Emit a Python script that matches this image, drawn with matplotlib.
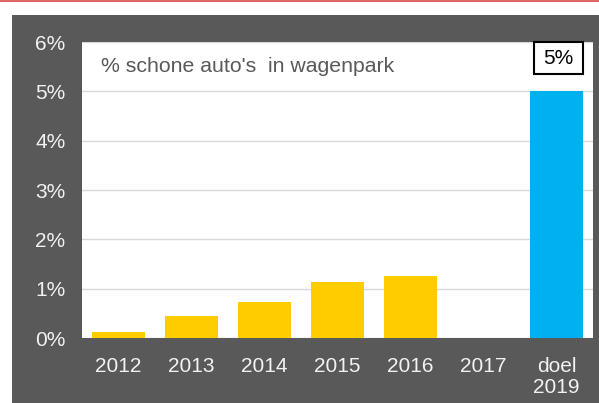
import matplotlib
matplotlib.use("Agg")
import matplotlib.pyplot as plt
from matplotlib.patches import Rectangle

categories = ["2012", "2013", "2014", "2015", "2016", "2017", "doel\n2019"]
values = [0.13, 0.45, 0.72, 1.13, 1.26, 0.0, 5.0]
colors = ["#FFCC00"] * 6 + ["#00B0F0"]
yticks = [0, 1, 2, 3, 4, 5, 6]
ytick_labels = ["0%", "1%", "2%", "3%", "4%", "5%", "6%"]
title_text = "% schone auto's  in wagenpark"
target_label = "5%"

plt.rcParams['font.family'] = ['Liberation Sans', 'DejaVu Sans']

fig = plt.figure(figsize=(5.99, 4.03), dpi=100)
fig.patch.set_facecolor("white")
# dark panel
fig.patches.append(Rectangle((11.5/599, 0), 1, (403-14.5)/403, transform=fig.transFigure,
                             facecolor="#595959", edgecolor="none", zorder=-10))
# red line at top
fig.patches.append(Rectangle((0, 401/403), 1, 2/403, transform=fig.transFigure,
                             facecolor="#E06666", edgecolor="none", zorder=-10))

ax = fig.add_axes([82/599, (403-338)/403, (593-82)/599, (338-42)/403])
ax.set_zorder(5)
ax.set_facecolor("white")
x = list(range(len(categories)))
ax.bar(x, values, width=0.73, color=colors, zorder=2)
ax.set_xlim(-0.5, len(categories) - 0.5)
ax.set_ylim(0, 6)
ax.set_yticks(yticks)
ax.set_yticklabels(ytick_labels)
ax.set_xticks(x)
ax.set_xticklabels(categories, linespacing=1.15)
ax.tick_params(axis="both", length=0, labelsize=15, labelcolor="#F2F2F2")
ax.tick_params(axis="y", pad=12)
ax.tick_params(axis="x", pad=13.5)
ax.grid(axis="y", color="#D9D9D9", linewidth=1, zorder=1)
for s in ax.spines.values():
    s.set_visible(False)

ax.text(0.038, 0.95, title_text, transform=ax.transAxes, fontsize=15.3,
        color="#595959", ha="left", va="top")

# target label box
bx0, bx1 = (534-82)/511, (583-82)/511
by0, by1 = (338-74)/296, 1.0
ax.add_patch(Rectangle((bx0, by0), bx1 - bx0, by1 - by0, transform=ax.transAxes,
                       facecolor="white", edgecolor="black", linewidth=1.5, zorder=6,
                       clip_on=False))
ax.text((bx0 + bx1) / 2, (by0 + by1) / 2, target_label, transform=ax.transAxes,
        fontsize=15, color="black", ha="center", va="center", zorder=7)

fig.savefig("out.png", dpi=100)
